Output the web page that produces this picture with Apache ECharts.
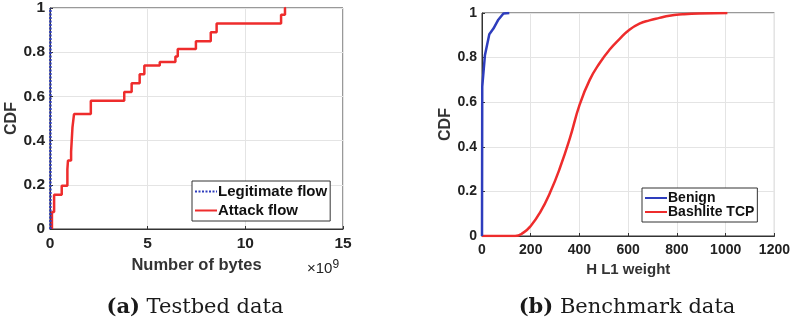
<!DOCTYPE html>
<html>
<head>
<meta charset="utf-8">
<script src="https://cdn.jsdelivr.net/npm/echarts@6/dist/echarts.min.js"></script>
<style>
  html, body { margin: 0; padding: 0; background: #fff; }
  #chart { width: 793px; height: 325px; }
</style>
</head>
<body>
<div id="chart"></div>
<script>
// (a) testbed data, x in units of 1e9 bytes
const legitFlow = [[0.02, 0], [0.02, 1]];
const attackFlow = [
  [0.1, 0], [0.1, 0.077], [0.21, 0.155], [0.6, 0.196], [0.89, 0.27], [0.92, 0.31],
  [1.08, 0.35], [1.15, 0.46], [1.23, 0.52], [2.09, 0.58], [3.8, 0.62], [4.18, 0.66],
  [4.59, 0.70], [4.83, 0.74], [5.62, 0.756], [6.42, 0.78], [6.54, 0.815], [7.47, 0.85],
  [8.23, 0.89], [8.53, 0.93], [11.83, 0.97], [12.03, 1.0], [12.08, 1.0]
];
// (b) benchmark data
const benign = [[0, 0], [1, 0.67], [12, 0.81], [30, 0.905], [47, 0.93], [67, 0.97], [88, 0.998], [112, 1.0]];
const bashlite = [
  [0, 0], [136, 0], [170, 0.015], [200, 0.045], [238, 0.105], [279, 0.194], [320, 0.306],
  [361, 0.44], [401, 0.59], [442, 0.70], [483, 0.776], [524, 0.836], [565, 0.884],
  [605, 0.925], [646, 0.952], [687, 0.967], [728, 0.978], [769, 0.988], [823, 0.994],
  [891, 0.998], [1007, 1.0]
];
const xTicksA = { min: 0, max: 15, interval: 5 };
const xTicksB = { min: 0, max: 1200, interval: 200 };

const RED = '#ee2c2c';
const BLUE = '#2e3dbd';
const AXIS = '#333333';
const GRID = '#e4e4e4';
const FONT = 'Liberation Sans';

function xAxis(idx, ticks, name, size, tickSize, gap) {
  return {
    type: 'value', gridIndex: idx, min: ticks.min, max: ticks.max, interval: ticks.interval,
    name: name, nameLocation: 'middle', nameGap: gap,
    nameTextStyle: { fontFamily: FONT, fontWeight: 'bold', fontSize: size, color: '#333' },
    axisLine: { show: true, lineStyle: { color: AXIS, width: 1 } },
    axisTick: { show: true, inside: true, length: 3, lineStyle: { color: AXIS } },
    axisLabel: { fontFamily: FONT, fontWeight: 'bold', fontSize: tickSize, color: '#222', margin: 7,
      formatter: v => String(v) },
    splitLine: { show: true, lineStyle: { color: GRID, width: 1 } }
  };
}
function yAxis(idx, tickSize, gap) {
  return {
    type: 'value', gridIndex: idx, min: 0, max: 1, interval: 0.2,
    name: 'CDF', nameLocation: 'middle', nameGap: gap,
    nameTextStyle: { fontFamily: FONT, fontWeight: 'bold', fontSize: 16, color: '#333' },
    axisLine: { show: true, lineStyle: { color: AXIS, width: 1 } },
    axisTick: { show: true, inside: true, length: 3, lineStyle: { color: AXIS } },
    axisLabel: { fontFamily: FONT, fontWeight: 'bold', fontSize: tickSize, color: '#222', margin: 5 },
    splitLine: { show: true, lineStyle: { color: GRID, width: 1 } }
  };
}
function legend(names, left, top, size, itemH, gap) {
  return {
    data: names, left: left, top: top, orient: 'vertical',
    itemWidth: 22, itemHeight: itemH, itemGap: gap, padding: [3, 3, 3, 2],
    itemStyle: { opacity: 0 },
    backgroundColor: '#fff', borderColor: AXIS, borderWidth: 1, borderRadius: 0,
    textStyle: { fontFamily: FONT, fontWeight: 'bold', fontSize: size, color: '#111', padding: [0, 0, 0, -4] }
  };
}
const captionStyle = {
  fontFamily: 'DejaVu Serif', fontWeight: 'normal', fontSize: 21, color: '#1a1a1a',
  rich: { b: { fontFamily: 'DejaVu Serif', fontWeight: 'bold', fontSize: 21, color: '#1a1a1a' } }
};

const chart = echarts.init(document.getElementById('chart'));
chart.setOption({
  animation: false,
  backgroundColor: '#fff',
  grid: [
    { left: 50, top: 8, width: 293, height: 221, show: true, borderColor: AXIS, borderWidth: 1 },
    { left: 482, top: 13, width: 294, height: 223, show: true, borderColor: AXIS, borderWidth: 1 }
  ],
  xAxis: [xAxis(0, xTicksA, 'Number of bytes', 16.5, 15.5, 28), xAxis(1, xTicksB, 'H L1 weight', 15, 14, 25)],
  yAxis: [yAxis(0, 15.5, 30), yAxis(1, 14, 27)],
  legend: [
    legend(['Legitimate flow', 'Attack flow'], 192, 181, 15, 15, 4),
    legend(['Benign', 'Bashlite TCP'], 642, 188, 14, 14, 0)
  ],
  title: [
    { text: '{b|(a)} Testbed data', left: 190, top: 292, textAlign: 'center', textStyle: captionStyle },
    { text: '{b|(b)} Benchmark data', left: 622, top: 292, textAlign: 'center', textStyle: captionStyle }
  ],
  graphic: [
    { type: 'text', left: 307, top: 259,
      style: { text: '×10{s|9}', fontFamily: FONT, fontSize: 15, fill: '#222',
        rich: { s: { fontFamily: FONT, fontSize: 12, verticalAlign: 'top', padding: [0, 0, 8, 0] } } } }
  ],
  series: [
    { name: 'Legitimate flow', type: 'line', xAxisIndex: 0, yAxisIndex: 0, data: legitFlow,
      symbol: 'none', lineStyle: { color: BLUE, width: 2.5, type: [2, 1.5] }, itemStyle: { color: BLUE }, z: 3 },
    { name: 'Attack flow', type: 'line', xAxisIndex: 0, yAxisIndex: 0, data: attackFlow, step: 'end',
      symbol: 'none', lineStyle: { color: RED, width: 2.5 }, itemStyle: { color: RED }, z: 2 },
    { name: 'Benign', type: 'line', xAxisIndex: 1, yAxisIndex: 1, data: benign,
      symbol: 'none', lineStyle: { color: BLUE, width: 2.5 }, itemStyle: { color: BLUE }, z: 3 },
    { name: 'Bashlite TCP', type: 'line', xAxisIndex: 1, yAxisIndex: 1, data: bashlite, smooth: 0.5,
      symbol: 'none', lineStyle: { color: RED, width: 2.5 }, itemStyle: { color: RED }, z: 2 }
  ]
});
</script>
</body>
</html>
